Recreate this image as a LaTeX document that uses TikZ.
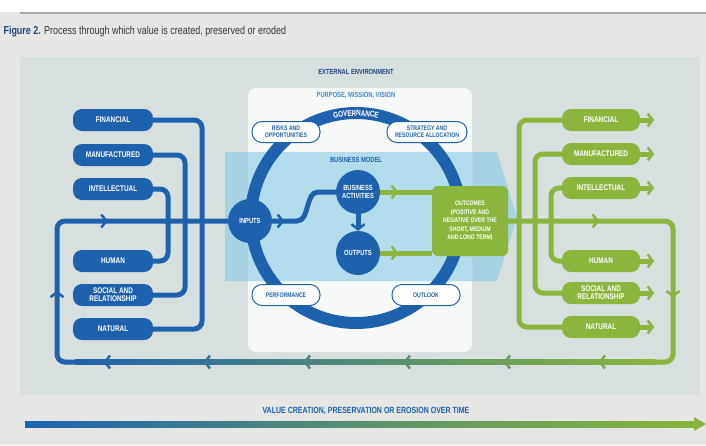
\documentclass[tikz,border=0pt]{standalone}
\usepackage{fontspec}
\setmainfont{Liberation Sans}[FakeStretch=0.78]
\usetikzlibrary{arrows.meta, positioning, decorations.markings, decorations.text}

\definecolor{capblue}{HTML}{1E62AE}
\definecolor{capgreen}{HTML}{8BB53C}
\definecolor{navy}{HTML}{23457E}
\definecolor{skyblue}{HTML}{3C8EC8}
\definecolor{modelblue}{HTML}{86CCE4}
\definecolor{pagegrey}{HTML}{E6E7E4}
\definecolor{panelgrey}{HTML}{D8DFDF}
\definecolor{textgrey}{HTML}{33383F}

\tikzset{chev/.tip={Straight Barb[length=5pt,width=13pt,line width=2.5pt]}}
\tikzstyle{capin} = [rectangle, rounded corners=9pt, minimum width=80pt, minimum height=22pt, inner sep=1pt, align=center, fill=capblue, text=white, font=\fontsize{8.2}{8.2}\selectfont\bfseries]
\tikzstyle{capout} = [capin, fill=capgreen, minimum width=78pt]
\tikzstyle{hub} = [circle, fill=capblue, minimum size=44pt, inner sep=0pt, align=center, text=white, font=\fontsize{7.4}{8.4}\selectfont\bfseries]
\tikzstyle{pill} = [rectangle, rounded corners=10pt, draw=capblue, line width=1pt, fill=white, minimum height=21pt, inner sep=1pt, align=center, text=capblue, font=\fontsize{6.6}{7}\selectfont\bfseries]
\tikzstyle{heading} = [font=\fontsize{7.4}{8}\selectfont\bfseries]
\tikzstyle{bluewire} = [draw=capblue, line width=5pt, rounded corners=8pt]
\tikzstyle{greenwire} = [draw=capgreen, line width=5pt, rounded corners=8pt]
\tikzstyle{outtip} = [-{chev}]
\tikzset{midtip/.style={postaction={decorate}, decoration={markings, mark=at position #1 with {\arrow{chev}}}}}
\tikzset{twotips/.style 2 args={postaction={decorate}, decoration={markings, mark=at position #1 with {\arrow{chev}}, mark=at position #2 with {\arrow{chev}}}}}

\begin{document}
\begin{tikzpicture}[x=1pt, y=-1pt]
\useasboundingbox (0,0) rectangle (706,445);

% screen and panel
\fill[pagegrey] (0,0) rectangle (706,445);
\fill[white] (0,0) rectangle (706,12);
\draw[gray!70, line width=1.2pt] (20,13) -- (706,13);
\fill[panelgrey] (20,57) rectangle (700,395);

\node (title) [anchor=west, text=textgrey, font=\fontsize{11.5}{12}\selectfont] at (0,32)
{\textcolor{navy}{\textbf{Figure 2.}} Process through which value is created, preserved or eroded};

% value creation model
\fill[white, opacity=0.8, rounded corners=8pt] (248,88) rectangle (472,352);
\fill[modelblue, opacity=0.6] (225,152) -- (497,152) -- (517,218) -- (497,281) -- (225,281) -- cycle;

\node (extenv) [heading, text=navy] at (356,72) {EXTERNAL ENVIRONMENT};
\node (purpose) [heading, text=skyblue] at (356,95) {PURPOSE, MISSION, VISION};
\node (model) [heading, text=capblue] at (356,160) {BUSINESS MODEL};

\coordinate (hubcentre) at (356,218);
\draw[capblue, line width=12pt] (hubcentre) circle (105);
\path[decorate, decoration={text along path, text align=center, raise=-3pt,
  text={|\fontsize{8.2}{8.2}\selectfont\bfseries\color{white}|GOVERNANCE}}]
  (hubcentre) ++(235:105) arc[start angle=235, end angle=305, radius=105];

\node (risks) [pill, minimum width=68pt] at (286,132) {RISKS AND\\OPPORTUNITIES};
\node (strategy) [pill, minimum width=80pt] at (427,132) {STRATEGY AND\\RESOURCE ALLOCATION};
\node (perf) [pill, minimum width=68pt] at (286,295) {PERFORMANCE};
\node (outlook) [pill, minimum width=68pt] at (426,295) {OUTLOOK};

\node (inputs) [hub] at (250,221) {INPUTS};
\node (acts) [hub] at (358,192) {BUSINESS\\ACTIVITIES};
\node (outs) [hub] at (358,253) {OUTPUTS};

\node (outcomes) [rectangle, rounded corners=6pt, fill=capgreen, minimum width=76pt, minimum height=70pt, align=center, text=white, font=\fontsize{6.6}{8.6}\selectfont\bfseries] at (470,221)
{OUTCOMES\\(POSITIVE AND\\NEGATIVE OVER THE\\SHORT, MEDIUM\\AND LONG TERM)};

\draw[bluewire, rounded corners=0pt, midtip=12pt] (inputs) -- (297,221) .. controls (310,221) and (305,192) .. (318,192) -- (acts);
\draw[bluewire, outtip] (acts) -- (outs);
\draw[greenwire, midtip=18pt] (acts) -- (acts -| outcomes.west);
\draw[greenwire, midtip=18pt] (outs) -- (outs -| outcomes.west);

% capitals going in
\coordinate (upleft) at (57,221);
\coordinate (lowleft) at (57,362);
\coordinate (lowblue) at (75,362);
\draw[bluewire] (113,120) -- (202,120) -- (202,329) -- (113,329);
\draw[bluewire] (113,155) -- (185,155) -- (185,295) -- (113,295);
\draw[bluewire] (113,189) -- (168,189) -- (168,261) -- (113,261);
\draw[bluewire, twotips={86pt}{203pt}] (lowblue) -- (lowleft) -- (upleft) -- (inputs);

\node (lfin) [capin] at (113,120) {FINANCIAL};
\node (lman) [capin] at (113,155) {MANUFACTURED};
\node (lint) [capin] at (113,189) {INTELLECTUAL};
\node (lhum) [capin] at (113,261) {HUMAN};
\node (lsoc) [capin] at (113,295) {SOCIAL AND\\RELATIONSHIP};
\node (lnat) [capin] at (113,329) {NATURAL};

% capitals coming out
\coordinate (upright) at (673,221);
\coordinate (lowright) at (673,362);
\coordinate (lowgreen) at (655,362);
\draw[greenwire] (601,120) -- (519,120) -- (519,327) -- (601,327);
\draw[greenwire] (601,154) -- (535,154) -- (535,293) -- (601,293);
\draw[greenwire] (601,188) -- (551,188) -- (551,261) -- (601,261);
\draw[greenwire, twotips={91pt}{238pt}] (outcomes) -- (upright) -- (lowright) -- (lowgreen);

\node (rfin) [capout] at (601,120) {FINANCIAL};
\node (rman) [capout] at (601,154) {MANUFACTURED};
\node (rint) [capout] at (601,188) {INTELLECTUAL};
\node (rhum) [capout] at (601,261) {HUMAN};
\node (rsoc) [capout] at (601,293) {SOCIAL AND\\RELATIONSHIP};
\node (rnat) [capout] at (601,327) {NATURAL};
\foreach \n in {rfin,rman,rint,rhum,rsoc,rnat}
  \draw[greenwire, outtip] (\n.east) -- ++(14,0);

% return line back to the inputs
\shade[left color=capblue, right color=capgreen] ([yshift=2.5pt]lowblue) rectangle ([yshift=-2.5pt]lowgreen);
\foreach \x/\m in {105/8,205/24,305/40,405/56,505/73,600/88}
  \draw[line width=2.5pt, capgreen!\m!capblue] (\x+5,355.5) -- (\x,362) -- (\x+5,368.5);

% time axis
\coordinate (tstart) at (25,424);
\coordinate (tend) at (706,424);
\shade[left color=capblue, right color=capgreen, middle color=capblue!45!capgreen] ([yshift=3pt]tstart) rectangle ([yshift=-3pt,xshift=-10pt]tend);
\fill[capgreen] ([xshift=-12pt,yshift=7pt]tend) -- (tend) -- ([xshift=-12pt,yshift=-7pt]tend) -- cycle;
\node (timeline) [text=capblue, font=\fontsize{9}{10}\selectfont\bfseries] at (366,411) {VALUE CREATION, PRESERVATION OR EROSION OVER TIME};

\end{tikzpicture}
\end{document}
